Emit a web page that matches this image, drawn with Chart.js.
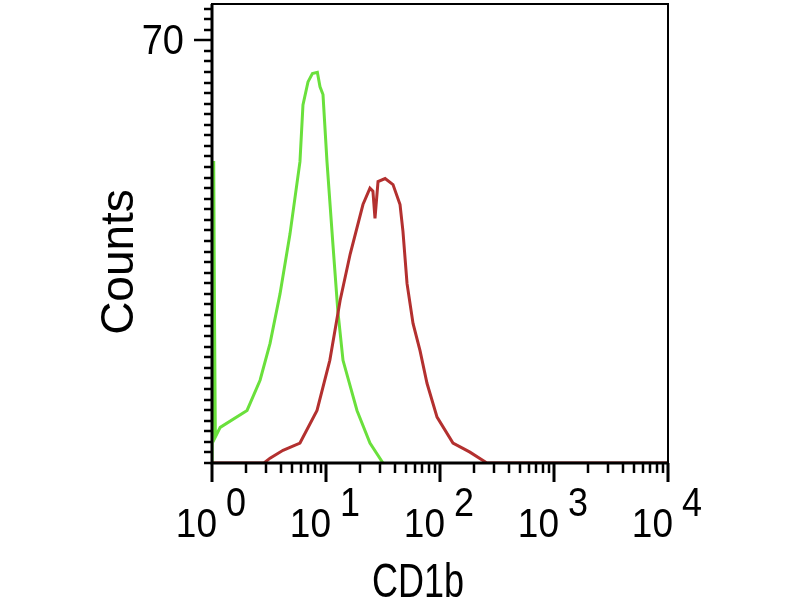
<!DOCTYPE html>
<html>
<head>
<meta charset="utf-8">
<script src="https://cdn.jsdelivr.net/npm/chart.js@4.4.1/dist/chart.umd.min.js"></script>
<style>
  html, body { margin: 0; padding: 0; background: #fff; }
  canvas { display: block; }
</style>
</head>
<body>
<canvas id="histo" width="800" height="600"></canvas>
<script>
// CD1b histogram values (x is fluorescence, log scale; y is counts)
var greenX = [1.0, 1.035, 1.05, 1.06, 1.07, 1.18, 2.03, 2.64, 3.23, 3.95, 4.83, 5.91, 6.28, 6.95, 7.6, 8.4, 8.86, 9.41, 10.2, 11.5, 12.7, 14.1, 18.7, 24.3, 31.6];
var greenY = [0, 50, 27, 27, 4.3, 5.9, 8.7, 13.7, 19.8, 28.0, 37.9, 49.9, 59.3, 63.1, 64.5, 64.7, 62.3, 61.0, 49.9, 36.2, 25.2, 17.0, 8.7, 3.3, 0];
var redX = [1.0, 2.86, 3.23, 4.2, 5.91, 8.34, 10.8, 13.3, 16.3, 21.1, 24.3, 25.8, 26.9, 28.6, 33.0, 38.7, 44.6, 47.3, 51.4, 58.0, 66.8, 76.9, 94.2, 130, 156, 183, 258, 10000];
var redY = [0, 0, 0.8, 2.1, 3.3, 8.7, 17.0, 26.9, 34.6, 42.8, 45.5, 45.0, 40.5, 46.6, 47.1, 46.1, 42.8, 38.4, 29.7, 23.1, 18.6, 13.2, 7.6, 3.3, 2.5, 1.8, 0, 0];

var xDecades = [0, 1, 2, 3, 4];
var yLabels = [70];
const yMax = 76;
const yMinorStep = 1.75;

function pairs(xs, ys) {
    return xs.map(function (v, i) { return { x: v, y: ys[i] }; });
}

function stretchText(ctx, str, x, y, size, sy, align) {
    ctx.save();
    ctx.translate(x, y);
    ctx.scale(1, sy);
    ctx.font = size + 'px "Liberation Sans", Arial, sans-serif';
    ctx.textAlign = align;
    ctx.textBaseline = 'alphabetic';
    ctx.fillStyle = '#000';
    ctx.fillText(str, 0, 0);
    ctx.restore();
}

// frame, ticks and labels drawn from the chart's own scales
const axesPlugin = {
    id: 'flowAxes',
    afterDraw(chart) {
        const ctx = chart.ctx, a = chart.chartArea;
        const xs = chart.scales.x, ys = chart.scales.y;
        ctx.save();
        ctx.strokeStyle = '#000';
        ctx.lineWidth = 2;
        ctx.strokeRect(a.left, a.top, a.right - a.left, a.bottom - a.top);
        ctx.lineWidth = 3;
        ctx.beginPath();
        ctx.moveTo(a.left, a.top);
        ctx.lineTo(a.left, a.bottom);
        ctx.lineTo(a.right, a.bottom);
        ctx.stroke();

        // y ticks
        ctx.lineWidth = 2.5;
        for (let v = 0; v <= yMax; v += yMinorStep) {
            const py = Math.round(ys.getPixelForValue(v));
            const major = yLabels.indexOf(v) >= 0;
            ctx.beginPath();
            ctx.moveTo(a.left, py);
            ctx.lineTo(a.left - (major ? 18 : 8), py);
            ctx.stroke();
        }
        yLabels.forEach(function (v) {
            stretchText(ctx, String(v), 184, ys.getPixelForValue(v) + 14, 38, 1.14, 'right');
        });

        // x ticks
        xDecades.forEach(function (d) {
            const base = Math.pow(10, d);
            const px = Math.round(xs.getPixelForValue(base));
            ctx.lineWidth = 3;
            ctx.beginPath();
            ctx.moveTo(px, a.bottom);
            ctx.lineTo(px, a.bottom + 19);
            ctx.stroke();
            ctx.lineWidth = 2.5;
            if (d < xDecades[xDecades.length - 1]) {
                for (let k = 2; k <= 9; k++) {
                    const mx = Math.round(xs.getPixelForValue(k * base));
                    ctx.beginPath();
                    ctx.moveTo(mx, a.bottom);
                    ctx.lineTo(mx, a.bottom + 10);
                    ctx.stroke();
                }
            }
            stretchText(ctx, '10', px + 5, 537, 37, 1.12, 'right');
            stretchText(ctx, String(d), px + 14, 516, 36, 1.12, 'left');
        });

        // axis titles
        stretchText(ctx, 'CD1b', 418, 597, 36, 1.35, 'center');
        ctx.save();
        ctx.translate(133, 262);
        ctx.rotate(-Math.PI / 2);
        ctx.font = '46px "Liberation Sans", Arial, sans-serif';
        ctx.textAlign = 'center';
        ctx.fillStyle = '#000';
        ctx.fillText('Counts', 0, 0);
        ctx.restore();
        ctx.restore();
    }
};

new Chart('histo', {
    type: 'line',
    data: {
        datasets: [{
            label: 'CD1b',
            data: pairs(redX, redY),
            borderColor: '#b3302f',
            borderWidth: 3,
            pointRadius: 0,
            tension: 0,
            fill: false
        }, {
            label: 'isotype',
            data: pairs(greenX, greenY),
            borderColor: '#6ae03c',
            borderWidth: 3,
            pointRadius: 0,
            tension: 0,
            fill: false
        }]
    },
    options: {
        responsive: false,
        animation: false,
        layout: {
            padding: { left: 212, right: 132, top: 4, bottom: 137 }
        },
        plugins: {
            legend: { display: false },
            tooltip: { enabled: false }
        },
        scales: {
            x: {
                type: 'logarithmic',
                min: 1,
                max: 10000,
                display: false
            },
            y: {
                type: 'linear',
                min: 0,
                max: yMax,
                display: false
            }
        }
    },
    plugins: [axesPlugin]
});
</script>
</body>
</html>
